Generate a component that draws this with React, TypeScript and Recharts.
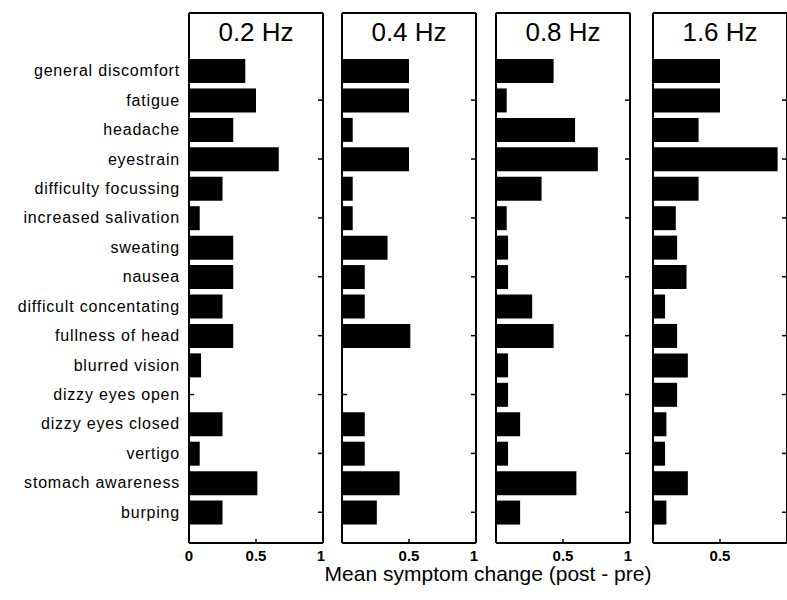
import { BarChart, Bar, XAxis, YAxis } from "recharts";

const categories = [
  "general discomfort",
  "fatigue",
  "headache",
  "eyestrain",
  "difficulty focussing",
  "increased salivation",
  "sweating",
  "nausea",
  "difficult concentating",
  "fullness of head",
  "blurred vision",
  "dizzy eyes open",
  "dizzy eyes closed",
  "vertigo",
  "stomach awareness",
  "burping",
];

const panelTitles = ["0.2 Hz", "0.4 Hz", "0.8 Hz", "1.6 Hz"];

// mean symptom change (steps of 1/12)
const hz02 = [0.42, 0.5, 0.33, 0.67, 0.25, 0.08, 0.33, 0.33, 0.25, 0.33, 0.09, 0, 0.25, 0.08, 0.51, 0.25];
const hz04 = [0.5, 0.5, 0.08, 0.5, 0.08, 0.08, 0.34, 0.17, 0.17, 0.51, 0, 0, 0.17, 0.17, 0.43, 0.26];
const hz08 = [0.43, 0.08, 0.59, 0.76, 0.34, 0.08, 0.09, 0.09, 0.27, 0.43, 0.09, 0.09, 0.18, 0.09, 0.6, 0.18];
const hz16 = [0.5, 0.5, 0.34, 0.93, 0.34, 0.17, 0.18, 0.25, 0.09, 0.18, 0.26, 0.18, 0.1, 0.09, 0.26, 0.1];

const xTicks = [0, 0.5, 1];

const FONT = "'Liberation Sans', Arial, sans-serif";
const PLOT_W = 134;
const TOP = 13;
const BOTTOM = 543;
const H = 600;
const panelLefts = [189, 342, 496, 653];
const border = { stroke: "#000", strokeWidth: 2 };

const makeYTick = (side: "left" | "right", withLabel: boolean) => (props: any) => {
  const { x, y, index, payload } = props;
  const dir = side === "left" ? 1 : -1;
  return (
    <g>
      {index % 2 === 1 && (
        <line x1={x} y1={y} x2={x + dir * 5} y2={y} stroke="#000" strokeWidth={1.5} />
      )}
      {withLabel && (
        <text
          x={x - 9}
          y={y}
          textAnchor="end"
          dominantBaseline="central"
          fontSize={16}
          letterSpacing={0.8}
          fontFamily={FONT}
          fill="#000"
        >
          {payload.value}
        </text>
      )}
    </g>
  );
};

const XTick = (props: any) => {
  const { x, y, payload } = props;
  return (
    <g>
      {payload.value === 0.5 && <line x1={x} y1={y} x2={x} y2={y - 4} stroke="#000" strokeWidth={1.5} />}
      <text
        x={x}
        y={y + 12}
        textAnchor="middle"
        dominantBaseline="central"
        fontSize={15}
        fontWeight="bold"
        fontFamily={FONT}
        fill="#000"
      >
        {payload.value}
      </text>
    </g>
  );
};

function Panel({ values, index }: { values: number[]; index: number }) {
  const data = categories.map((name, i) => ({ name, value: values[i] }));
  const first = index === 0;
  // thin axes (1px) so that the frame lines get drawn
  const yWidth = first ? panelLefts[0] : 1;
  const chartLeft = panelLefts[index] - yWidth;
  const width = yWidth + PLOT_W + 2;
  const ticks = index === 3 ? [0, 0.5] : xTicks;

  return (
    <div style={{ position: "absolute", left: chartLeft, top: 0 }}>
      <BarChart
        width={width}
        height={H}
        data={data}
        layout="vertical"
        barSize={24}
        margin={{ top: TOP - 1, right: 1, bottom: 0, left: 0 }}
      >
        <XAxis
          type="number"
          domain={[0, 1]}
          ticks={ticks}
          allowDataOverflow
          height={H - BOTTOM}
          tickSize={0}
          tickMargin={0}
          tick={XTick}
          axisLine={border}
        />
        <XAxis
          xAxisId="top"
          orientation="top"
          type="number"
          domain={[0, 1]}
          height={1}
          tick={false}
          tickLine={false}
          axisLine={border}
        />
        <YAxis
          type="category"
          dataKey="name"
          width={yWidth}
          interval={0}
          padding={{ top: 43, bottom: 16 }}
          tickSize={0}
          tickMargin={0}
          tickLine={false}
          tick={makeYTick("left", first)}
          axisLine={border}
        />
        <YAxis
          yAxisId="r"
          orientation="right"
          type="category"
          dataKey="name"
          width={1}
          interval={0}
          padding={{ top: 43, bottom: 16 }}
          tickSize={0}
          tickMargin={0}
          tickLine={false}
          tick={makeYTick("right", false)}
          axisLine={border}
        />
        <Bar dataKey="value" fill="#000" isAnimationActive={false} />
      </BarChart>
      <div
        style={{
          position: "absolute",
          left: yWidth,
          top: 19,
          width: PLOT_W,
          textAlign: "center",
          fontFamily: FONT,
          fontSize: 26,
          lineHeight: "26px",
          color: "#000",
        }}
      >
        {panelTitles[index]}
      </div>
    </div>
  );
}

export default function App() {
  const panels = [hz02, hz04, hz08, hz16];
  return (
    <div
      style={{
        position: "absolute",
        left: 0,
        top: 0,
        width: 787,
        height: 600,
        overflow: "hidden",
        background: "#fff",
      }}
    >
      {panels.map((vals, i) => (
        <Panel key={panelTitles[i]} values={vals} index={i} />
      ))}
      <div
        style={{
          position: "absolute",
          left: 288,
          top: 563,
          width: 400,
          textAlign: "center",
          fontFamily: FONT,
          fontSize: 21,
          lineHeight: "22px",
          color: "#000",
        }}
      >
        Mean symptom change (post - pre)
      </div>
    </div>
  );
}
